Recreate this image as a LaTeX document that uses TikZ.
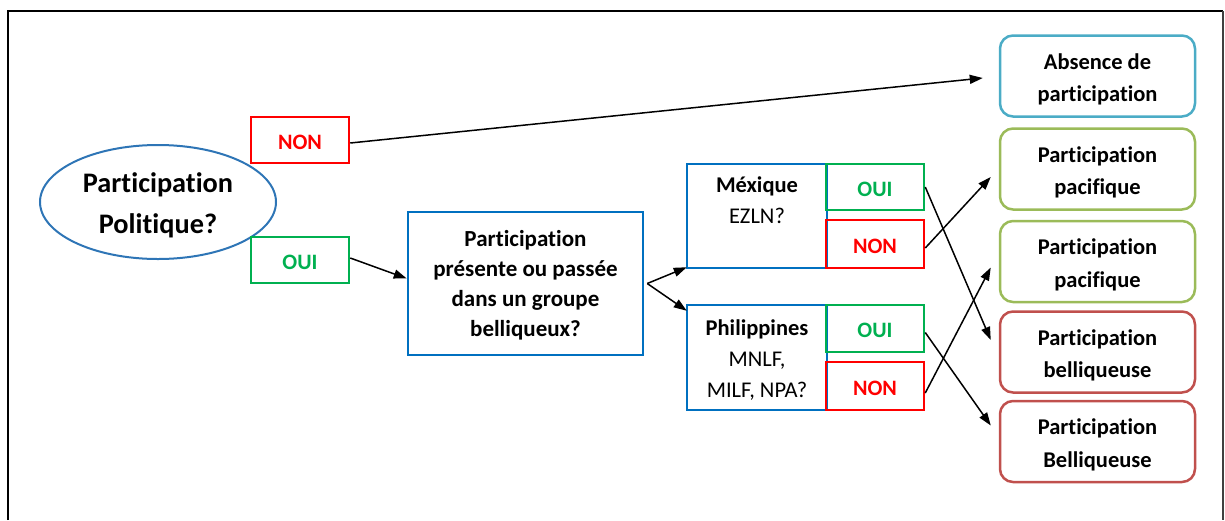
\documentclass[tikz,border=0pt]{standalone}
\usepackage{fontspec}
\setmainfont{Carlito}[Ligatures={NoCommon}]
\usetikzlibrary{shapes.geometric,arrows.meta,calc}
\definecolor{qblue}{HTML}{0070C0}
\definecolor{eblue}{HTML}{2E75B6}
\definecolor{ogreen}{HTML}{00B050}
\definecolor{nred}{HTML}{FF0000}
\definecolor{abscol}{HTML}{4BACC6}
\definecolor{paccol}{HTML}{9BBB59}
\definecolor{belcol}{HTML}{C0504D}
\tikzset{
  txt/.style={font=\fontsize{22.5}{31}\selectfont\bfseries, align=center, inner sep=0pt},
  sqbox/.style={draw, line width=2.5pt, rectangle, inner sep=0pt, align=center},
  ansbox/.style={sqbox, font=\fontsize{22}{31}\selectfont\bfseries, minimum width=98pt, text height=20pt, text depth=2pt},
  ouibox/.style={ansbox, draw=ogreen, text=ogreen},
  nonbox/.style={ansbox, draw=nred, text=nred},
  outbox/.style={draw, line width=2.5pt, rounded corners=13pt, minimum width=195pt, minimum height=81pt, inner sep=0pt},
  outtxt/.style={align=center, inner sep=0pt, font=\fontsize{22.5}{32.5}\selectfont\bfseries},
  arr/.style={line width=1.5pt, -{Triangle[length=13pt,width=9pt]}}
}
\begin{document}
\begin{tikzpicture}[x=1pt,y=-1pt]
\useasboundingbox (0,0) rectangle (1225,520);
% frame
\draw[line width=2.2pt] (8,520) -- (8,11) -- (1223,11);
\draw[line width=1.2pt, black!75] (1223,11) -- (1223,520);
% ellipse
\node[ellipse, draw=eblue, line width=2pt, minimum width=236pt, minimum height=114pt, inner sep=0pt] (ell) at (158,202) {};
\node[align=center, inner sep=0pt, font=\fontsize{28.3}{41}\selectfont\bfseries] (ellt) at ($(ell.center)+(0,3)$) {Participation\\Politique?};
% first answers
\node[nonbox, minimum height=46pt] (non1) at (300,140) {NON};
\node[ouibox, minimum height=46pt] (oui1) at (300,260) {OUI};
% question box
\node[sqbox, draw=qblue, minimum width=235pt, minimum height=143pt] (q) at (525.5,283.5) {};
\node[txt, font=\fontsize{23}{30}\selectfont\bfseries] (qt) at ($(q.center)+(0,2)$)
  {Participation\\présente ou passée\\dans un groupe\\belliqueux?};
% Mexique
\node[sqbox, draw=qblue, minimum width=140pt, minimum height=104pt] (mex) at (757,216) {};
\node[txt, anchor=north] (mext) at ($(mex.north)+(0,14)$) {Méxique\\\mdseries EZLN?};
\node[ouibox, minimum height=46pt] (mexoui) at (875,187) {OUI};
\node[nonbox, minimum height=48pt] (mexnon) at (875,244) {NON};
% Philippines
\node[sqbox, draw=qblue, minimum width=140pt, minimum height=105pt] (phil) at (757,357.5) {};
\node[txt] (philt) at ($(phil.center)+(0,3)$) {Philippines\\\mdseries MNLF,\\\mdseries MILF, NPA?};
\node[ouibox, minimum height=47pt] (philoui) at (875,328.5) {OUI};
\node[nonbox, minimum height=48pt] (philnon) at (875,386) {NON};
% outcomes
\node[outbox, draw=abscol] (absence) at (1097.5,76) {};
\node[outtxt] (absencet) at ($(absence.center)+(0,3.5)$) {Absence de\\participation};
\node[outbox, draw=paccol] (pac1) at (1097.5,169) {};
\node[outtxt] (pac1t) at ($(pac1.center)+(0,3.5)$) {Participation\\pacifique};
\node[outbox, draw=paccol] (pac2) at (1097.5,261.5) {};
\node[outtxt] (pac2t) at ($(pac2.center)+(0,3.5)$) {Participation\\pacifique};
\node[outbox, draw=belcol] (bel1) at (1097.5,352) {};
\node[outtxt] (bel1t) at ($(bel1.center)+(0,3.5)$) {Participation\\belliqueuse};
\node[outbox, draw=belcol] (bel2) at (1097.5,441.5) {};
\node[outtxt] (bel2t) at ($(bel2.center)+(0,3.5)$) {Participation\\Belliqueuse};
% connectors
\draw[arr] ($(non1.east)+(0,3)$) -- ($(absence.west)+(-16,2)$);
\draw[arr] ($(oui1.east)+(0,-2)$) -- ($(q.west)+(0,-5)$);
\draw[arr] ($(q.east)+(3,0)$) -- ($(mex.south west)+(1,-2)$);
\draw[arr] ($(q.east)+(3,0)$) -- ($(phil.north west)+(1,7)$);
\draw[arr] (mexoui.east) -- ($(bel1.west)+(-8,-12)$);
\draw[arr] ($(mexnon.east)+(0,4)$) -- ($(pac1.west)+(-8,8)$);
\draw[arr] ($(philoui.east)+(0,4)$) -- ($(bel2.west)+(-8,-16)$);
\draw[arr] ($(philnon.east)+(0,7)$) -- ($(pac2.west)+(-8,6)$);
\end{tikzpicture}
\end{document}
